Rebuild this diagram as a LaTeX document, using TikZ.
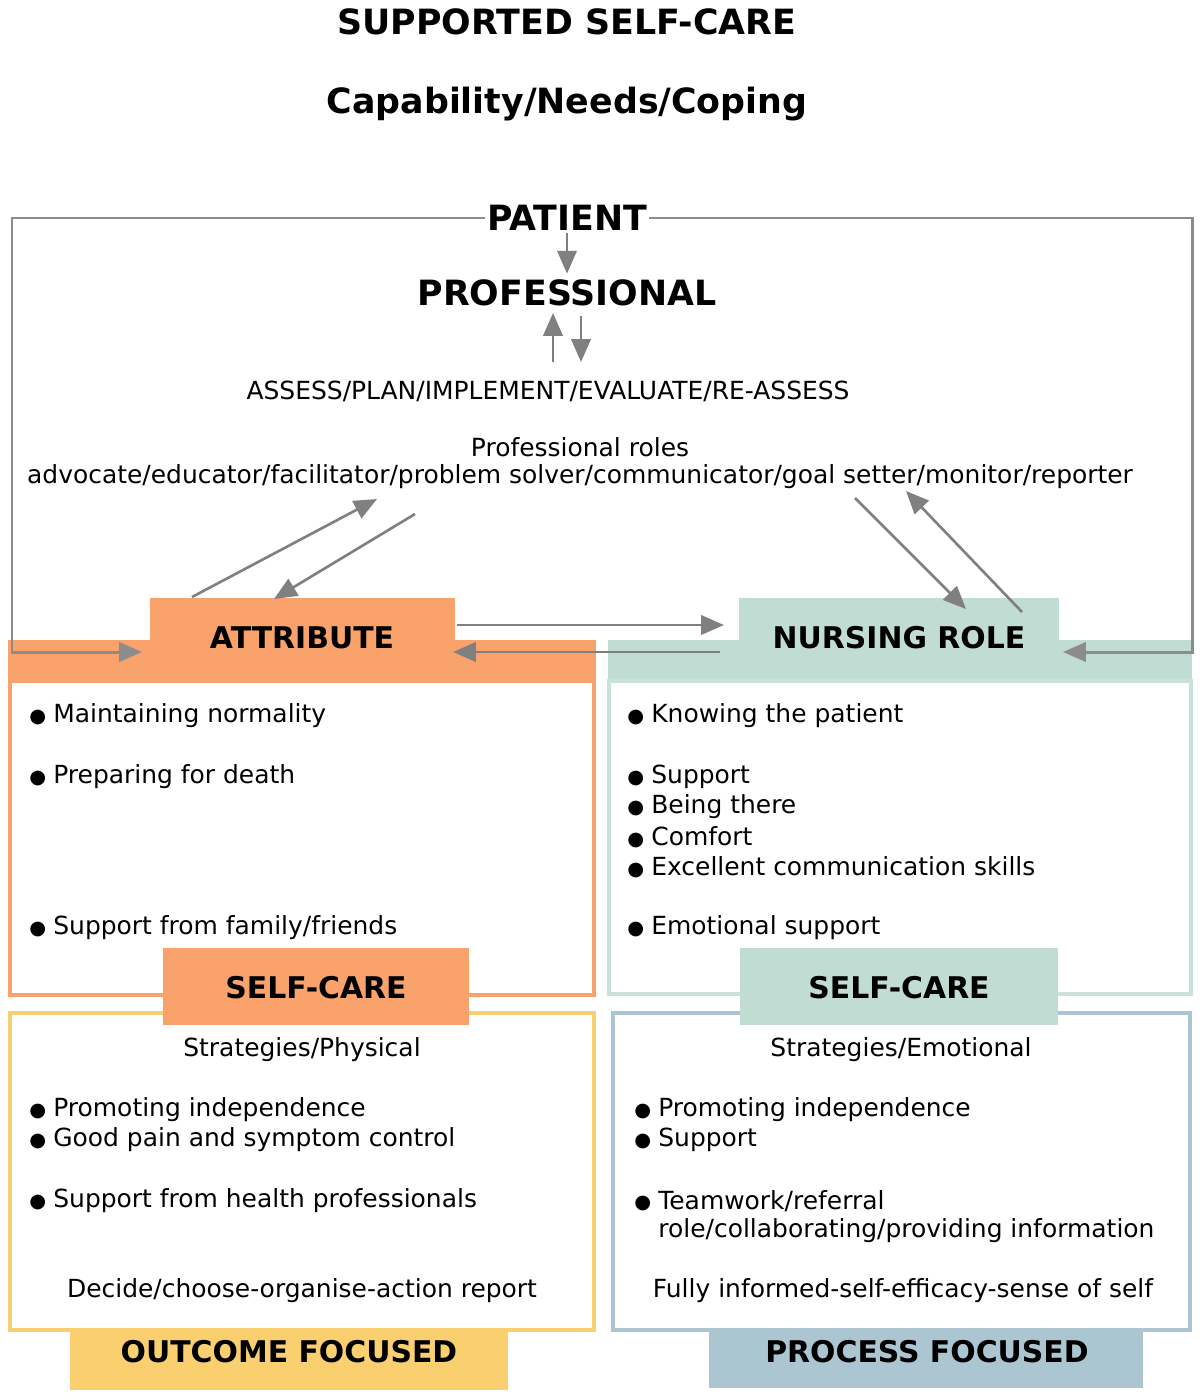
\documentclass[tikz,border=0pt]{standalone}
\usepackage{fontspec}
\setmainfont{DejaVu Sans}
\usetikzlibrary{arrows.meta}
\definecolor{attrorange}{HTML}{F9A26B}
\definecolor{nurseteal}{HTML}{C0DCD3}
\definecolor{nurseline}{HTML}{C9E1DA}
\definecolor{outyellow}{HTML}{FACF6F}
\definecolor{procblue}{HTML}{ABC6D0}
\newcommand\bul{\makebox[0.48cm][l]{\fontsize{11}{11}\selectfont\raisebox{0.02em}{●}}}
\tikzset{
  headline/.style={font=\fontsize{19.8}{23}\selectfont\bfseries},
  boxlabel/.style={font=\fontsize{17}{20}\selectfont\bfseries},
  txt/.style={font=\fontsize{14.2}{17}\selectfont, inner sep=0pt},
  item/.style={txt, anchor=west},
  frame/.style={draw=black!45, line width=1.7pt},
  arr/.style={draw=black!50, line width=1.5pt, -{Triangle[length=13pt,width=11pt]}},
  border/.style={line width=2.3pt}
}
\begin{document}
\begin{tikzpicture}[x=0.02cm,y=-0.02cm]
  \useasboundingbox (0,0) rectangle (1200,1399);
  % titles
  \node[headline] (title) at (567,22) {SUPPORTED SELF-CARE};
  \node[headline] (coping) at (567,104) {Capability/Needs/Coping};

  % attribute block
  \fill[attrorange] (8,640) rectangle (596,682);
  \fill[attrorange] (150,598) rectangle (455,682);
  \draw[attrorange, border] (10,681) rectangle (594,995);
  % nursing role block
  \fill[nurseteal] (608,640) rectangle (1192,682);
  \fill[nurseteal] (739,598) rectangle (1059,682);
  \draw[nurseline, border] (609,681) rectangle (1191,994);
  % lower blocks
  \draw[outyellow, border] (10,1013) rectangle (594,1330);
  \draw[procblue, border] (613,1013) rectangle (1190,1330);
  \fill[attrorange] (163,948) rectangle (469,1025);
  \fill[nurseteal] (740,948) rectangle (1058,1025);
  \fill[outyellow] (70,1332) rectangle (508,1390);
  \fill[procblue] (709,1332) rectangle (1143,1388);

  % labels
  \node[boxlabel] (attribute) at (302,638) {ATTRIBUTE};
  \node[boxlabel] (nursing) at (899,638) {NURSING ROLE};
  \node[boxlabel] (selfcareL) at (316,988) {SELF-CARE};
  \node[boxlabel] (selfcareR) at (899,988) {SELF-CARE};
  \node[boxlabel] (outcome) at (289,1352) {OUTCOME FOCUSED};
  \node[boxlabel] (process) at (927,1352) {PROCESS FOCUSED};

  % patient / professional
  \node[headline, inner sep=1pt] (patient) at (567,218) {PATIENT};
  \node[headline] (professional) at (567,293) {PROFESSIONAL};
  \node[txt] (assess) at (548,391) {ASSESS/PLAN/IMPLEMENT/EVALUATE/RE-ASSESS};
  \node[txt] (profroles) at (580,447) {Professional roles};
  \node[txt] (roles) at (580,477) {advocate/educator/facilitator/problem solver/communicator/goal setter/monitor/reporter};

  % arrow ends
  \coordinate (upS) at (553,362);   \coordinate (upE) at (553,313);
  \coordinate (dnS) at (581,316);   \coordinate (dnE) at (581,362);
  \coordinate (aUpS) at (192,597);  \coordinate (aUpE) at (377,499);
  \coordinate (aDnS) at (415,514);  \coordinate (aDnE) at (274,599);
  \coordinate (nDnS) at (855,498);  \coordinate (nDnE) at (966,609);
  \coordinate (nUpS) at (1022,612); \coordinate (nUpE) at (906,491);
  \coordinate (toNurse) at (724,625); \coordinate (fromAttr) at (457,625);
  \coordinate (fromNurse) at (720,652); \coordinate (toAttr) at (453,652);
  \coordinate (frameLB) at (12,652);  \coordinate (frameRB) at (1192,652);
  \coordinate (inAttr) at (142,652); \coordinate (inNurse) at (1063,652);

  % outer frame
  \draw[frame, -{Triangle[length=13pt,width=11pt]}] (patient.west) -- (patient.west -| frameLB) -- (frameLB) -- (inAttr);
  \draw[frame, -{Triangle[length=13pt,width=11pt]}] (patient.east) -- (patient.east -| frameRB) -- (frameRB) -- (inNurse);

  % arrows
  \draw[arr] (patient.south) -- (professional.north);
  \draw[arr] (upS) -- (upE);
  \draw[arr] (dnS) -- (dnE);
  \draw[arr] (aUpS) -- (aUpE);
  \draw[arr] (aDnS) -- (aDnE);
  \draw[arr] (nDnS) -- (nDnE);
  \draw[arr] (nUpS) -- (nUpE);
  \draw[arr] (fromAttr) -- (toNurse);
  \draw[arr] (fromNurse) -- (toAttr);

  % attribute items
  \node[item] (normal) at (29,716) {\bul Maintaining normality};
  \node[item] (death) at (29,777) {\bul Preparing for death};
  \node[item] (family) at (29,928) {\bul Support from family/friends};
  % nursing role items
  \node[item] (knowing) at (627,716) {\bul Knowing the patient};
  \node[item] (support) at (627,777) {\bul Support};
  \node[item] (there) at (627,807) {\bul Being there};
  \node[item] (comfort) at (627,837) {\bul Comfort};
  \node[item] (commun) at (627,867) {\bul Excellent communication skills};
  \node[item] (emotion) at (627,928) {\bul Emotional support};

  % physical strategies
  \node[txt] (physical) at (302,1050) {Strategies/Physical};
  \node[item] (indepL) at (29,1110) {\bul Promoting independence};
  \node[item] (pain) at (29,1140) {\bul Good pain and symptom control};
  \node[item] (health) at (29,1201) {\bul Support from health professionals};
  \node[txt] (decide) at (302,1291) {Decide/choose-organise-action report};
  % emotional strategies
  \node[txt] (emotional) at (901,1050) {Strategies/Emotional};
  \node[item] (indepR) at (634,1110) {\bul Promoting independence};
  \node[item] (supportR) at (634,1140) {\bul Support};
  \node[item] (team) at (634,1201) {\bul Teamwork/referral};
  \node[item] (collab) at (658,1231) {role/collaborating/providing information};
  \node[txt] (informed) at (903,1291) {Fully informed-self-efficacy-sense of self};
\end{tikzpicture}
\end{document}
